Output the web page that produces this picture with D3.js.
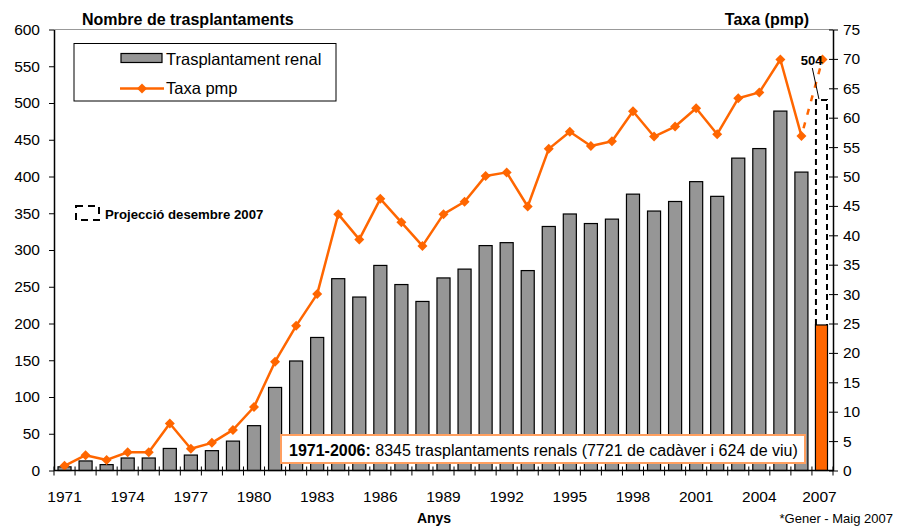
<!DOCTYPE html>
<html>
<head>
<meta charset="utf-8">
<script src="https://cdn.jsdelivr.net/npm/d3@7"></script>
<style>
  body { margin: 0; background: #fff; }
  text { font-family: Arial, "Liberation Sans", sans-serif; }
</style>
</head>
<body>
<div id="chart"></div>
<script>
const years = [1971, 1972, 1973, 1974, 1975, 1976, 1977, 1978, 1979, 1980,
    1981, 1982, 1983, 1984, 1985, 1986, 1987, 1988, 1989, 1990,
    1991, 1992, 1993, 1994, 1995, 1996, 1997, 1998, 1999, 2000,
    2001, 2002, 2003, 2004, 2005, 2006, 2007];
const yearLabels = [1971, 1974, 1977, 1980, 1983, 1986, 1989, 1992, 1995, 1998, 2001, 2004, 2007];

// transplants per year (1971-2006)
const transplants = [5, 13, 8, 17, 17, 30, 21, 27, 40, 61,
    113, 149, 181, 261, 236, 279, 253, 230, 262, 274,
    306, 310, 272, 332, 349, 336, 342, 376, 353, 366,
    393, 373, 425, 438, 489, 406];
// 2007: January-May, and the december projection
const partial2007 = 198;
const projected2007 = 504;

// rate pmp (1971-2006), and the 2007 projected rate
const rate = [0.8, 2.6, 1.8, 3.1, 3.1, 8.0, 3.7, 4.7, 6.9, 10.8,
    18.5, 24.6, 30.0, 43.6, 39.3, 46.2, 42.2, 38.2, 43.6, 45.7,
    50.1, 50.7, 44.9, 54.7, 57.6, 55.2, 56.0, 61.1, 56.8, 58.5,
    61.6, 57.2, 63.3, 64.3, 69.9, 56.9];
const rate2007 = 69.9;

const leftTicks = [0, 50, 100, 150, 200, 250, 300, 350, 400, 450, 500, 550, 600];
const rightTicks = [0, 5, 10, 15, 20, 25, 30, 35, 40, 45, 50, 55, 60, 65, 70, 75];

const width = 898, height = 530;
const orange = '#ff6600';
const plotLeft = 54, plotRight = 833, plotTop = 29.5, plotBottom = 470.5;

const svg = d3.select('#chart').append('svg')
    .attr('width', width)
    .attr('height', height);

const x = d3.scaleBand().domain(years).range([plotLeft, plotRight]).padding(0);
const yL = d3.scaleLinear().domain([0, 600]).range([plotBottom, plotTop]);
const yR = d3.scaleLinear().domain([0, 75]).range([plotBottom, plotTop]);

const bw = x.bandwidth() * 0.62;
const bOff = x.bandwidth() * 0.19;
const cx = d => x(d) + x.bandwidth() / 2;

// top border of plot area
svg.append('line')
    .attr('x1', plotLeft).attr('x2', plotRight)
    .attr('y1', plotTop).attr('y2', plotTop)
    .attr('stroke', '#999').attr('stroke-width', 1);

// bars
const barData = transplants.map((v, i) => ({ year: years[i], value: v }));
svg.selectAll('.bar')
    .data(barData)
    .enter()
    .append('rect')
    .attr('class', 'bar')
    .attr('x', d => x(d.year) + bOff)
    .attr('y', d => yL(d.value))
    .attr('width', bw)
    .attr('height', d => yL(0) - yL(d.value))
    .attr('fill', '#969696')
    .attr('stroke', '#000')
    .attr('stroke-width', 1.2);

// 2007 partial bar + projection outline
svg.append('rect')
    .attr('x', x(2007) + bOff - 0.5)
    .attr('y', yL(partial2007))
    .attr('width', bw - 1)
    .attr('height', yL(0) - yL(partial2007))
    .attr('fill', orange)
    .attr('stroke', '#000')
    .attr('stroke-width', 1.2);

svg.append('path')
    .attr('d', `M${x(2007) + bOff},${yL(partial2007)} V${yL(projected2007)} H${x(2007) + bOff + bw - 2} V${yL(partial2007)}`)
    .attr('fill', 'none')
    .attr('stroke', '#000')
    .attr('stroke-width', 2)
    .attr('stroke-dasharray', '6,4');

// rate line
const rateData = rate.map((v, i) => ({ year: years[i], value: v }));
const line = d3.line().x(d => cx(d.year)).y(d => yR(d.value));

svg.append('path')
    .datum(rateData)
    .attr('d', line)
    .attr('fill', 'none')
    .attr('stroke', orange)
    .attr('stroke-width', 2.5)
    .attr('stroke-linejoin', 'round');

svg.append('path')
    .datum([rateData[rateData.length - 1], { year: 2007, value: rate2007 }])
    .attr('d', line)
    .attr('fill', 'none')
    .attr('stroke', orange)
    .attr('stroke-width', 2.5)
    .attr('stroke-dasharray', '6,8')
    .attr('stroke-dashoffset', -8);

const diamond = d3.symbol().type(d3.symbolSquare).size(50);
svg.selectAll('.marker')
    .data(rateData.concat([{ year: 2007, value: rate2007 }]))
    .enter()
    .append('path')
    .attr('class', 'marker')
    .attr('d', diamond)
    .attr('transform', d => `translate(${cx(d.year)},${yR(d.value)}) rotate(45)`)
    .attr('fill', orange);

// 504 label with leader
svg.append('line')
    .attr('x1', 812.3).attr('y1', 68)
    .attr('x2', x(2007) + bOff + 3).attr('y2', yL(projected2007) - 1)
    .attr('stroke', '#000').attr('stroke-width', 1);
svg.append('text')
    .attr('x', 811.7).attr('y', 65)
    .attr('text-anchor', 'middle')
    .attr('font-size', 13).attr('font-weight', 'bold')
    .text(projected2007);

// axes
const xAxis = svg.append('g')
    .attr('transform', `translate(0,${plotBottom})`);
xAxis.append('line')
    .attr('x1', plotLeft).attr('x2', plotRight)
    .attr('stroke', '#000').attr('stroke-width', 1.5);
xAxis.selectAll('.xtick')
    .data(years.map(d => x(d)).concat([plotRight]))
    .enter()
    .append('line')
    .attr('x1', d => d).attr('x2', d => d)
    .attr('y1', -4).attr('y2', 5)
    .attr('stroke', '#000').attr('stroke-width', 1);
xAxis.selectAll('.xlabel')
    .data(yearLabels)
    .enter()
    .append('text')
    .attr('x', d => cx(d) - (d === 2007 ? 3 : 0))
    .attr('y', 31)
    .attr('text-anchor', 'middle')
    .attr('font-size', 15.5)
    .text(d => d);

const gL = svg.append('g')
    .attr('transform', `translate(${plotLeft},0)`)
    .call(d3.axisLeft(yL).tickValues(leftTicks).tickSize(5).tickPadding(9).tickSizeOuter(0));
gL.select('.domain').attr('stroke-width', 1.5);
gL.selectAll('text').attr('font-size', 15.5).attr('font-family', 'Arial, "Liberation Sans", sans-serif').attr('fill', '#000');

const gR = svg.append('g')
    .attr('transform', `translate(${plotRight},0)`)
    .call(d3.axisRight(yR).tickValues(rightTicks).tickSize(5).tickPadding(7).tickSizeOuter(0));
gR.select('.domain').attr('stroke-width', 1.5);
gR.selectAll('.tick line').attr('x1', -4).attr('x2', 5);
gR.selectAll('text').attr('x', 10).attr('font-size', 15.5).attr('font-family', 'Arial, "Liberation Sans", sans-serif').attr('fill', '#000');

// titles
svg.append('text').attr('x', 82).attr('y', 25)
    .attr('font-size', 16).attr('font-weight', 'bold')
    .text('Nombre de trasplantaments');
svg.append('text').attr('x', 809).attr('y', 25)
    .attr('text-anchor', 'end')
    .attr('font-size', 16).attr('font-weight', 'bold')
    .text('Taxa (pmp)');
svg.append('text').attr('x', 434).attr('y', 523)
    .attr('text-anchor', 'middle')
    .attr('font-size', 14).attr('font-weight', 'bold')
    .text('Anys');
svg.append('text').attr('x', 893).attr('y', 523)
    .attr('text-anchor', 'end')
    .attr('font-size', 13)
    .text('*Gener - Maig 2007');

// legend
const lg = svg.append('g');
lg.append('rect')
    .attr('x', 74).attr('y', 43.5).attr('width', 262).attr('height', 57.5)
    .attr('fill', '#fff').attr('stroke', '#000').attr('stroke-width', 1);
lg.append('rect')
    .attr('x', 121).attr('y', 53.5).attr('width', 41).attr('height', 9)
    .attr('fill', '#969696').attr('stroke', '#000').attr('stroke-width', 1.2);
lg.append('text').attr('x', 166).attr('y', 65)
    .attr('font-size', 16.5).text('Trasplantament renal');
lg.append('line')
    .attr('x1', 120).attr('x2', 164).attr('y1', 88.5).attr('y2', 88.5)
    .attr('stroke', orange).attr('stroke-width', 2.5);
lg.append('path')
    .attr('d', diamond)
    .attr('transform', 'translate(142,88.5) rotate(45)')
    .attr('fill', orange);
lg.append('text').attr('x', 166).attr('y', 94)
    .attr('font-size', 16.5).text('Taxa pmp');

// projection legend
svg.append('rect')
    .attr('x', 76).attr('y', 206).attr('width', 23).attr('height', 14)
    .attr('fill', 'none').attr('stroke', '#000').attr('stroke-width', 2)
    .attr('stroke-dasharray', '7,5');
svg.append('text').attr('x', 105).attr('y', 218.5)
    .attr('font-size', 13.2).attr('font-weight', 'bold')
    .text('Projecció desembre 2007');

// summary box
svg.append('rect')
    .attr('x', 281).attr('y', 435).attr('width', 524).attr('height', 28)
    .attr('fill', '#fff').attr('stroke', '#ff9f5f').attr('stroke-width', 2);
const note = svg.append('text').attr('x', 289).attr('y', 456).attr('font-size', 16);
note.append('tspan').attr('font-weight', 'bold').text('1971-2006:');
note.append('tspan').text(' 8345 trasplantaments renals (7721 de cadàver i 624 de viu)');
</script>
</body>
</html>
